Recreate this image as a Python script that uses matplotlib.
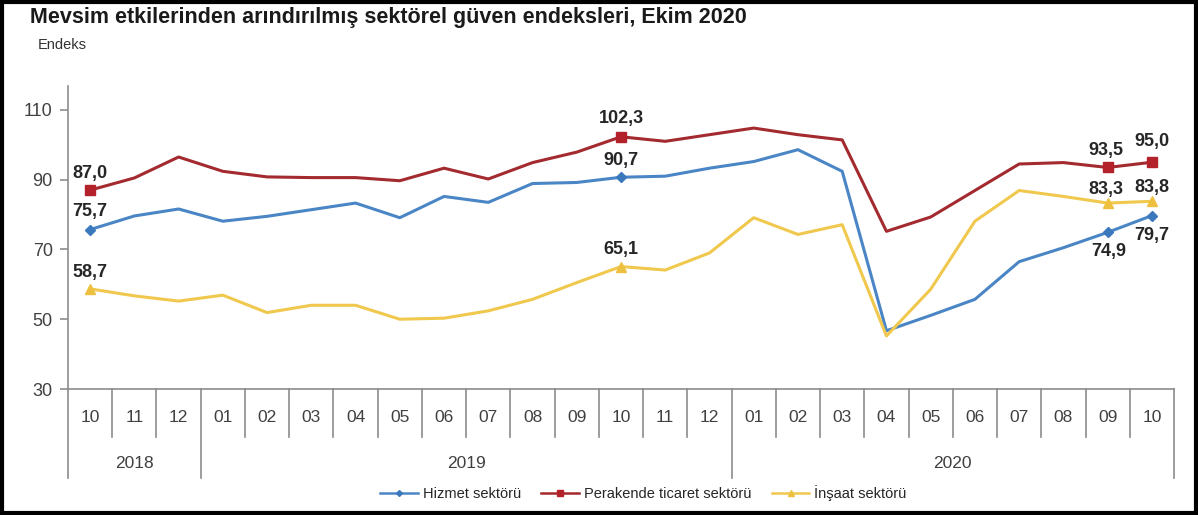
import matplotlib
matplotlib.use("Agg")
import matplotlib.pyplot as plt
import matplotlib.transforms as mtransforms
from matplotlib.patches import Rectangle
from matplotlib.lines import Line2D

plt.rcParams["font.family"] = ["Liberation Sans", "DejaVu Sans"]

months = ["10", "11", "12", "01", "02", "03", "04", "05", "06", "07", "08", "09",
          "10", "11", "12", "01", "02", "03", "04", "05", "06", "07", "08", "09", "10"]
years = ["2018", "2019", "2020"]
year_spans = [(0, 2), (3, 14), (15, 24)]

hizmet = [75.7, 79.6, 81.6, 78.1, 79.5, 81.4, 83.3, 79.1, 85.2, 83.5, 88.9, 89.2,
          90.7, 91.0, 93.3, 95.2, 98.6, 92.4, 46.7, 51.1, 55.7, 66.5, 70.5, 74.9, 79.7]
perakende = [87.0, 90.5, 96.5, 92.4, 90.8, 90.6, 90.6, 89.7, 93.3, 90.2, 94.9, 97.9,
             102.3, 101.0, 102.9, 104.8, 102.9, 101.4, 75.2, 79.3, 86.9, 94.5, 94.9, 93.5, 95.0]
insaat = [58.7, 56.7, 55.2, 56.9, 51.9, 54.0, 54.0, 50.0, 50.3, 52.4, 55.7, 60.5,
          65.1, 64.1, 69.0, 79.1, 74.3, 77.1, 45.2, 58.6, 78.1, 86.9, 85.2, 83.3, 83.8]

labelled = [0, 12, 23, 24]

series = [
    ("Hizmet sektörü", hizmet, "#4A86C5", "#3C78BC", "D", 5),
    ("Perakende ticaret sektörü", perakende, "#A32A2F", "#B3212A", "s", 7.5),
    ("İnşaat sektörü", insaat, "#F0C84E", "#EDC040", "^", 7),
]
# label offsets in points (dx, dy) per series for the labelled points
offsets = {
    "Hizmet sektörü": [(0, 13), (0, 12), (1, -14), (0, -14)],
    "Perakende ticaret sektörü": [(0, 12), (0, 13), (-1, 12), (0, 15)],
    "İnşaat sektörü": [(0, 12), (0, 12), (-1, 10), (0, 10)],
}

W, H = 1198, 515
fig = plt.figure(figsize=(W / 100, H / 100), dpi=100)
fig.patch.set_facecolor("white")

ax_left, ax_right, ax_bot, ax_top = 68, 1174, 389, 85.5
ax = fig.add_axes([ax_left / W, 1 - ax_bot / H, (ax_right - ax_left) / W, (ax_bot - ax_top) / H])

x = list(range(len(months)))
for name, vals, lc, mc, mk, ms in series:
    ax.plot(x, vals, color=lc, lw=2.2, zorder=2)
    ax.plot([x[i] for i in labelled], [vals[i] for i in labelled], ls="none",
            marker=mk, ms=ms, color=mc, zorder=3)
    for i, (dx, dy) in zip(labelled, offsets[name]):
        ax.annotate(f"{vals[i]:.1f}".replace(".", ","), (x[i], vals[i]),
                    xytext=(dx, dy), textcoords="offset points",
                    ha="center", va="center", fontsize=13, fontweight="bold",
                    color="#262626", zorder=4)

ax.set_xlim(-0.5, len(months) - 0.5)
ax.set_ylim(30, 117)
ax.set_yticks([30, 50, 70, 90, 110])
ax.set_xticks([])
for s in ("top", "right"):
    ax.spines[s].set_visible(False)
for s in ("left", "bottom"):
    ax.spines[s].set_color("#8C8C8C")
    ax.spines[s].set_linewidth(1.2)
ax.tick_params(axis="y", colors="#8C8C8C", labelcolor="#404040", labelsize=13,
               length=6, width=1.2, pad=5)

# category axis: month separators, month labels, year separators and labels
tr = mtransforms.blended_transform_factory(ax.transData, fig.transFigure)
y_axis = 1 - ax_bot / H
y_month_end = 1 - 437 / H
y_year_end = 1 - 478 / H
year_edges = [s - 0.5 for s, _ in year_spans] + [year_spans[-1][1] + 0.5]
for k in range(len(months) + 1):
    xe = k - 0.5
    y_end = y_year_end if xe in year_edges else y_month_end
    fig.add_artist(Line2D([xe, xe], [y_axis, y_end], transform=tr,
                          color="#8C8C8C", lw=1.2))
for i, m in enumerate(months):
    fig.text(i, 1 - 417 / H, m, transform=tr, ha="center", va="center",
             fontsize=12.5, color="#404040")
for yr, (a, b) in zip(years, year_spans):
    fig.text((a + b) / 2, 1 - 463 / H, yr, transform=tr, ha="center", va="center",
             fontsize=12.5, color="#404040")

handles = [Line2D([], [], color=lc, lw=1.8, marker=mk, ms=ms * 0.6, markerfacecolor=mc,
                  markeredgecolor=mc) for _, _, lc, mc, mk, ms in series]
fig.legend(handles, [s[0] for s in series], loc="center", bbox_to_anchor=(0.537, 1 - 493 / H),
           ncol=3, frameon=False, fontsize=10.5, handlelength=2.6, columnspacing=1.4,
           handletextpad=0.3, labelcolor="#262626")

fig.text(30 / W, 1 - 18 / H, "Mevsim etkilerinden arındırılmış sektörel güven endeksleri, Ekim 2020",
         ha="left", va="center", fontsize=15.5, fontweight="bold", color="#1a1a1a")
fig.text(38 / W, 1 - 45 / H, "Endeks", ha="left", va="center", fontsize=10.5, color="#333333")

fig.add_artist(Rectangle((0.002, 0.004), 0.996, 0.992, transform=fig.transFigure,
                         fill=False, edgecolor="black", lw=3))

fig.savefig("out.png", dpi=100)
